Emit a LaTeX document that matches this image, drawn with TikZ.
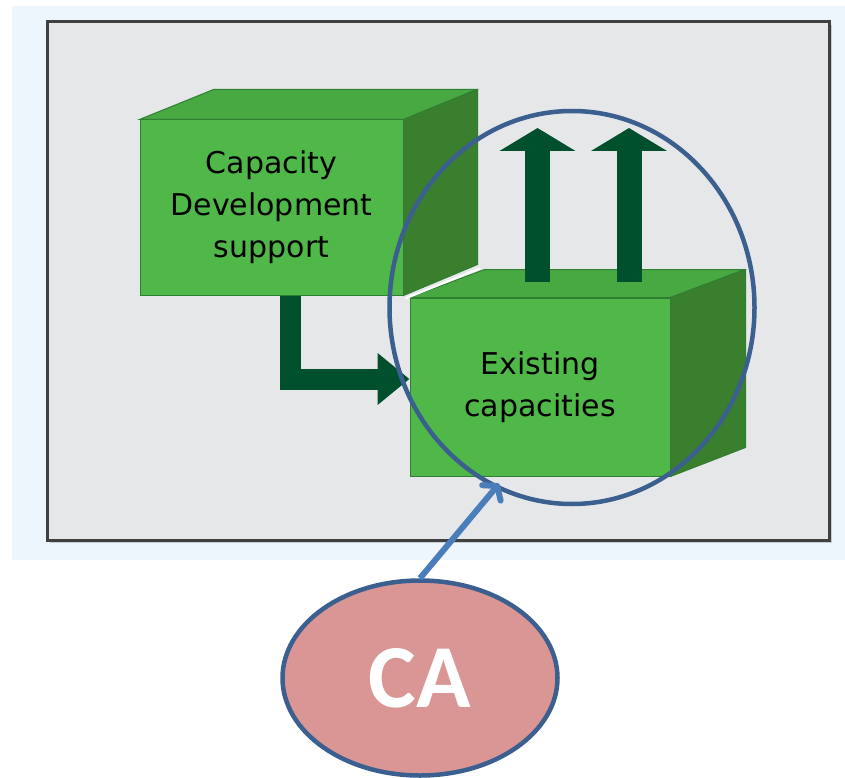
\documentclass[tikz,border=0pt]{standalone}
\usepackage{fontspec}
\setmainfont{DejaVu Sans}
\newfontfamily\cafont{Carlito}
\usepackage{tikz}
\usetikzlibrary{arrows.meta, shapes.geometric, shadows}

\definecolor{skyback}{HTML}{EEF6FD}
\definecolor{panelgray}{HTML}{E6E7E9}
\definecolor{frontgreen}{HTML}{50B848}
\definecolor{topgreen}{HTML}{48A942}
\definecolor{sidegreen}{HTML}{3A7F2D}
\definecolor{edgegreen}{HTML}{2F7F33}
\definecolor{arrowgreen}{HTML}{00502D}
\definecolor{ringblue}{HTML}{3B5F8F}
\definecolor{linkblue}{HTML}{4A7EBB}
\definecolor{carose}{HTML}{D99694}

\begin{document}
\begin{tikzpicture}[x=1pt, y=-1pt,
    front/.style={rectangle, fill=frontgreen, draw=edgegreen, line width=1pt, inner sep=0pt,
                  align=center, font=\fontsize{30}{42}\selectfont},
    topface/.style={fill=topgreen, draw=edgegreen, line width=1pt},
    sideface/.style={fill=sidegreen, draw=edgegreen, line width=1pt},
    blockarrow/.style={draw=arrowgreen, line width=#1, line join=miter},
    uparrow/.style={blockarrow=25pt, -{Triangle[width=75pt, length=23pt]}},
    ring/.style={ellipse, draw=ringblue, line width=4.5pt, inner sep=0pt}]
    \useasboundingbox (0,0) rectangle (845,778);
    % background and panel
    \fill[skyback] (12,6) rectangle (845,560);
    \draw[fill=panelgray, draw=black!75, line width=3pt,
          drop shadow={opacity=0.35, shadow xshift=3pt, shadow yshift=-3pt}] (47,22) rectangle (829,540);

    % support box
    \node[front, minimum width=263pt, minimum height=175pt] (support) at (271.5,207.5)
        {Capacity\\Development\\support};
    \draw[topface] (support.north west) -- ++(74,-30) -- ++(263,0) -- (support.north east) -- cycle;
    \draw[sideface] (support.north east) -- ++(74,-30) -- ++(0,175) -- (support.south east) -- cycle;

    % existing box
    \node[front, minimum width=260pt, minimum height=178pt] (existing) at (540,387)
        {Existing\\capacities};
    \draw[topface] (existing.north west) -- ++(75,-28) -- ++(260,0) -- (existing.north east) -- cycle;
    \draw[sideface] (existing.north east) -- ++(75,-28) -- ++(0,178) -- (existing.south east) -- cycle;
    \draw[white, line width=2pt] ([shift={(2,3)}]support.south east) -- ++(74,-30);

    % arrows
    \draw[blockarrow=21pt, -{Triangle[width=50pt, length=32pt]}]
        ([xshift=19pt]support.south) |- ([yshift=8pt]existing.west);
    \coordinate (tipA) at (537.5,128);
    \coordinate (tipB) at (629,128);
    \draw[uparrow] ([shift={(-2.5,-16)}]existing.north) -- (tipA);
    \draw[uparrow] ([shift={(89,-16)}]existing.north) -- (tipB);

    % assessment focus
    \node[ring, minimum width=365pt, minimum height=393pt] (focus) at (572,307.5) {};
    \node[ring, fill=carose, minimum width=275pt, minimum height=195pt,
          font=\cafont\bfseries\fontsize{90}{90}\selectfont, text=white] (ca) at (420,678) {CA};
    \draw[linkblue, line width=6pt, shorten >=-6pt,
          -{Straight Barb[length=9pt, width=24pt, round]}] (ca.north) -- (focus.-113);
\end{tikzpicture}
\end{document}
